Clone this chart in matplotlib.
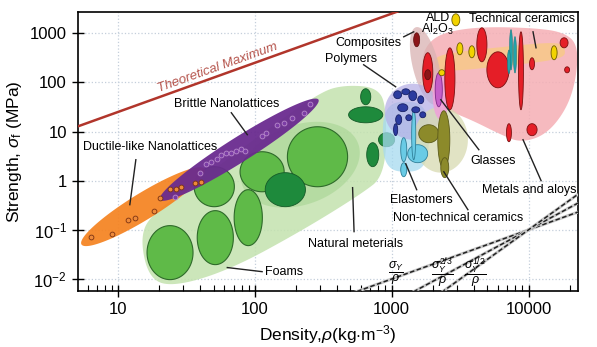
import numpy as np
import matplotlib.pyplot as plt

plt.rcParams['font.family'] = ['Liberation Sans', 'DejaVu Sans']
plt.rcParams['mathtext.fontset'] = 'custom'
plt.rcParams['mathtext.rm'] = 'Liberation Sans'
plt.rcParams['mathtext.it'] = 'Liberation Sans:italic'
plt.rcParams['mathtext.bf'] = 'Liberation Sans:bold'

# --------------------------------------------------
# data (density kg/m3, strength MPa)
# blobs: (rho, sigma, half-size in rho decades, half-size in sigma decades, angle)
# --------------------------------------------------
x_lim = (5.1, 23000)
y_lim = (0.0057, 2700)
x_ticks = [10, 100, 1000, 10000]
x_ticklabels = ["10", "100", "1000", "10000"]
y_ticks = [0.01, 0.1, 1, 10, 100, 1000]
y_ticklabels = ["$10^{-2}$", "$10^{-1}$", "1", "10", "100", "1000"]

theory_rho = [5, 1100]
theory_sig = [12.5, 2750]

guide_rho = [[500, 23000], [1300, 23000], [2100, 23000]]
guide_sig = [[0.005, 0.23], [0.0047, 0.35], [0.0044, 0.53]]
guide_labels = [r"$\dfrac{\sigma_Y}{\rho}$", r"$\dfrac{\sigma_Y^{2/3}}{\rho}$",
                r"$\dfrac{\sigma_Y^{1/2}}{\rho}$"]
guide_label_rho = [1069, 2364, 4120]
guide_label_sig = [0.013, 0.013, 0.013]

natural_rho = [14.5, 17.1, 40, 110, 300, 460, 800, 920, 900, 590, 215, 66, 26, 17]
natural_sig = [0.063, 0.20, 1.05, 8.6, 64, 89, 78, 28, 1.3, 0.52, 0.092, 0.0155, 0.007, 0.0097]
natural_inner = [(215, 2.11, 0.45, 0.81, 20)]

foams = [(24.0, 0.0344, 0.168, 0.549, 0),
         (51.4, 0.0694, 0.132, 0.549, 0),
         (89.5, 0.177, 0.103, 0.569, 0),
         (50.5, 0.755, 0.147, 0.407, 0),
         (113, 1.52, 0.161, 0.407, 0),
         (287, 3.07, 0.220, 0.610, 0)]
dark_green = [(167, 0.656, 0.147, 0.346, 0),
              (646, 21.9, 0.125, 0.163, 0),
              (646, 51, 0.037, 0.163, 0),
              (727, 3.38, 0.044, 0.244, 0),
              (918, 6.81, 0.059, 0.142, 0)]

ductile = [(15.2, 0.296, 0.527, 0.27, 31.6)]
ductile_dot_rho = [6.3, 9.0, 11.8, 13.3, 18.4, 20.3, 24.1, 26.6, 29, 36.7, 40.5]
ductile_dot_sig = [0.073, 0.084, 0.16, 0.177, 0.246, 0.45, 0.69, 0.69, 0.76, 0.91, 0.95]

brittle = [(76.9, 4.27, 0.685, 0.25, 32.3)]
brittle_dot_rho = [26.2, 39.9, 44.2, 48, 53.1, 56.9, 61.8, 67.3, 73.1, 79.6, 85.1,
                   112, 121, 146, 162, 188, 227, 255]
brittle_dot_sig = [0.473, 1.45, 2.21, 2.43, 2.80, 3.38, 3.71, 3.71, 4.07, 4.47, 4.07,
                   8.22, 9.46, 13.7, 15.1, 19.1, 24.1, 36.7]

polymer_env = [(1426, 25.3, 0.205, 0.57, 0)]
elastomer_env = [(1268, 7.84, 0.168, 0.71, 0)]
elastomers = [(1549, 3.54, 0.073, 0.183, 0),
              (1449, 8.61, 0.015, 0.508, 0),
              (1225, 4.27, 0.022, 0.244, 0),
              (1225, 1.67, 0.022, 0.142, 0)]
polymers = [(1106, 56, 0.029, 0.08, 0), (1268, 64.4, 0.029, 0.06, 0),
            (1426, 53.4, 0.029, 0.10, 0), (1631, 44.3, 0.022, 0.08, 0),
            (1205, 30.5, 0.037, 0.08, 0), (1500, 27.7, 0.029, 0.06, 0),
            (1125, 17.4, 0.022, 0.10, 0), (1334, 19.1, 0.022, 0.06, 0),
            (1069, 10.9, 0.015, 0.12, 0), (1687, 21.9, 0.022, 0.06, 0)]

nontech_env = [(2286, 6.81, 0.198, 0.67, 0)]
nontech = [(1866, 9.02, 0.073, 0.183, 0),
           (2404, 6.81, 0.044, 0.589, 0),
           (2443, 1.84, 0.029, 0.203, 0)]

composite_env = [(1774, 217, 0.291, 0.264, -76)]
glass_env = [(2286, 53.4, 0.059, 0.488, 0)]
glasses = [(2208, 70.7, 0.026, 0.346, 0)]

techcer_rho = [1631, 1866, 2489, 4489, 10420, 17900, 23060, 22300, 18840, 13440,
               8810, 6290, 3793, 2489, 1866]
techcer_sig = [288, 669, 1067, 1349, 1288, 1067, 581, 113, 27.7, 8.61,
               5.92, 8.61, 17.4, 27.7, 56]
techcer_band = [(6185, 331, 0.476, 0.193, 6)]
yellow = [(2944, 1872, 0.029, 0.122, 0), (3150, 482, 0.022, 0.122, 0),
          (3855, 419, 0.022, 0.122, 0), (15380, 400, 0.022, 0.142, 0),
          (2323, 157, 0.022, 0.061, 0)]
red = [(4563, 581, 0.037, 0.346, 0), (5980, 180, 0.081, 0.366, 0),
       (2663, 118, 0.037, 0.630, 0), (1835, 157, 0.037, 0.407, 0),
       (8810, 172, 0.018, 0.793, 0), (10610, 239, 0.018, 0.122, 0),
       (18200, 638, 0.029, 0.102, 0), (19150, 180, 0.018, 0.061, 0),
       (7195, 9.46, 0.018, 0.183, 0), (10610, 10.9, 0.037, 0.122, 0)]
dark_red = [(1835, 143, 0.022, 0.102, 0), (1523, 735, 0.022, 0.142, 0)]
teal = [(7450, 460, 0.011, 0.41, 0), (7965, 364, 0.011, 0.37, 0),
        (7195, 262, 0.011, 0.24, 0)]

labels = [("Brittle Nanolattices", 61.8, 36.7),
          ("Ductile-like Nanolattices", 17.1, 4.91),
          ("Natural meterials", 545, 0.0525),
          ("Elastomers", 1660, 0.411),
          ("Non-technical ceramics", 3048, 0.177),
          ("Metals and aloys", 10090, 0.656),
          ("Glasses", 5500, 2.55),
          ("Polymers", 509, 302),
          ("Composites", 679, 638),
          ("ALD", 2172, 2056),
          ("Al$_2$O$_3$", 2172, 1172),
          ("Technical ceramics", 8960, 1963)]
foams_label = ("Foams", 119, 0.0141)
leaders = [((67.3, 24.1), (88.1, 8.61)),
           ((13.5, 2.67), (12.2, 0.325)),
           ((62.9, 0.0171), (113, 0.0141)),
           ((518, 0.721), (531, 0.092)),
           ((1268, 2.21), (1523, 0.656)),
           ((2404, 1.52), (3606, 0.257)),
           ((9120, 6.81), (12360, 1.0)),
           ((2286, 44.3), (4335, 4.27)),
           ((624, 228), (1069, 81.4)),
           ((1225, 845), (1449, 1067)),
           ((10790, 1067), (11350, 505))]


# --------------------------------------------------
# figure
# --------------------------------------------------
fig = plt.figure(figsize=(5.97, 3.47), dpi=100)
ax = fig.add_axes([78 / 597, 56 / 347, 500 / 597, 279 / 347])
ax.set_xscale("log")
ax.set_yscale("log")
ax.set_xlim(*x_lim)
ax.set_ylim(*y_lim)

bb = ax.get_window_extent()
K = (bb.height / np.log10(y_lim[1] / y_lim[0])) / (bb.width / np.log10(x_lim[1] / x_lim[0]))


def blobs(items, n=2.0, **kw):
    """Ellipses built in log space (screen-isotropic), filled on log axes."""
    t = np.linspace(0, 2 * np.pi, 160)
    c, s = np.cos(t), np.sin(t)
    for rho, sig, a, b, ang in items:
        u = a * np.sign(c) * np.abs(c) ** (2.0 / n)
        v = b * K * np.sign(s) * np.abs(s) ** (2.0 / n)
        th = np.radians(ang)
        X = np.log10(rho) + u * np.cos(th) - v * np.sin(th)
        Y = np.log10(sig) * K + u * np.sin(th) + v * np.cos(th)
        ax.fill(10 ** X, 10 ** (Y / K), **kw)


def outline(rho, sig, it=4, **kw):
    """Rounded envelope (Chaikin corner cutting in log space)."""
    P = np.column_stack([np.log10(rho), np.log10(sig)])
    for _ in range(it):
        Q = np.roll(P, -1, axis=0)
        P = np.stack([0.75 * P + 0.25 * Q, 0.25 * P + 0.75 * Q], axis=1).reshape(-1, 2)
    ax.fill(10 ** P[:, 0], 10 ** P[:, 1], **kw)


ax.grid(True, which="major", color="#c4cfdb", linestyle=":", linewidth=0.9)
ax.set_axisbelow(True)

# natural materials / foams
outline(natural_rho, natural_sig, color="#c3e2ae", alpha=0.85, lw=0)
blobs(natural_inner, color="#a3d38f", alpha=0.55, lw=0)
blobs(foams, facecolor="#5fba48", edgecolor="#2e6a2a", lw=0.8)
blobs(dark_green, facecolor="#1e8a3c", edgecolor="#145a28", lw=0.6)

# nanolattices
blobs(ductile, color="#f5821f", alpha=0.92, lw=0)
ax.scatter(ductile_dot_rho, ductile_dot_sig, s=12, facecolor="#ee8a3a",
           edgecolor="#7a3212", linewidth=0.6, zorder=3)
blobs(brittle, color="#6a2b8f", alpha=0.95, lw=0)
ax.scatter(brittle_dot_rho, brittle_dot_sig, s=12, facecolor="#7b3ca5",
           edgecolor="#b98bcc", linewidth=0.6, zorder=3)

# technical ceramics / metals
outline(techcer_rho, techcer_sig, color="#f5aeb4", alpha=0.85, lw=0)
blobs(techcer_band, n=4, color="#f8c78e", alpha=0.95, lw=0)
blobs(composite_env, color="#d9b2b2", alpha=0.75, lw=0)

# polymers, elastomers, non-technical ceramics, glasses
blobs(elastomer_env, n=3, color="#a6daf0", alpha=0.75, lw=0)
blobs(polymer_env, color="#b3ace4", alpha=0.7, lw=0)
blobs(nontech_env, color="#d8dab0", alpha=0.75, lw=0)
blobs(glass_env, color="#f09fda", alpha=0.85, lw=0)
blobs(elastomers, facecolor="#6acbe5", edgecolor="#2f7f98", lw=0.6)
blobs(polymers, facecolor="#2c3b9f", edgecolor="#171f66", lw=0.6)
blobs(nontech, facecolor="#8c8a2a", edgecolor="#5c5a1a", lw=0.6)
blobs(glasses, facecolor="#c55ec8", edgecolor="#7f2a8a", lw=0.6)

blobs(red, facecolor="#e51e27", edgecolor="#7a1010", lw=0.6)
blobs(dark_red, facecolor="#8b1518", edgecolor="#5a0a0a", lw=0.5)
blobs(yellow, facecolor="#f2d300", edgecolor="#6b5a00", lw=0.6)
blobs(teal, facecolor="#22a3aa", edgecolor="#1a7a80", lw=0.4)

# theoretical maximum
ax.plot(theory_rho, theory_sig, color="#b1352b", lw=1.8, zorder=4)
ang = np.degrees(np.arctan(K))
ax.text(53.1, 198, "Theoretical Maximum", color="#b5544c", fontsize=9.5,
        style="italic", rotation=ang, rotation_mode="anchor",
        ha="center", va="center", zorder=5)

# performance index guide lines
for r, s in zip(guide_rho, guide_sig):
    ax.plot(r, s, color="#c9c9c9", lw=2.2, zorder=4, solid_capstyle="butt")
    ax.plot(r, s, color="#222222", lw=1.1, dashes=(3, 1.6), zorder=4)
for txt, r, s in zip(guide_labels, guide_label_rho, guide_label_sig):
    ax.text(r, s, txt, fontsize=9, ha="center", va="center", zorder=6)

# labels and leader lines
for (r1, s1), (r2, s2) in leaders:
    ax.plot([r1, r2], [s1, s2], color="#222222", lw=1.0, zorder=5)
for txt, r, s in labels:
    ax.text(r, s, txt, fontsize=9, ha="center", va="center", zorder=6)
ax.text(foams_label[1], foams_label[2], foams_label[0], fontsize=9,
        ha="left", va="center", zorder=6)

ax.set_xticks(x_ticks)
ax.set_xticklabels(x_ticklabels)
ax.set_yticks(y_ticks)
ax.set_yticklabels(y_ticklabels)
ax.yaxis.set_minor_locator(plt.NullLocator())
ax.tick_params(which="major", direction="inout", length=9, width=1.0, labelsize=12)
ax.tick_params(axis="x", which="minor", direction="in", length=4, width=0.8)
for sp in ax.spines.values():
    sp.set_linewidth(1.2)

ax.set_xlabel(r"Density,$\rho$(kg$\cdot$m$^{-3}$)", fontsize=12.5, labelpad=4)
ax.set_ylabel(r"Strength, $\sigma_{\rm f}$ (MPa)", fontsize=12.5, labelpad=4)

fig.savefig("out.png", dpi=100)
